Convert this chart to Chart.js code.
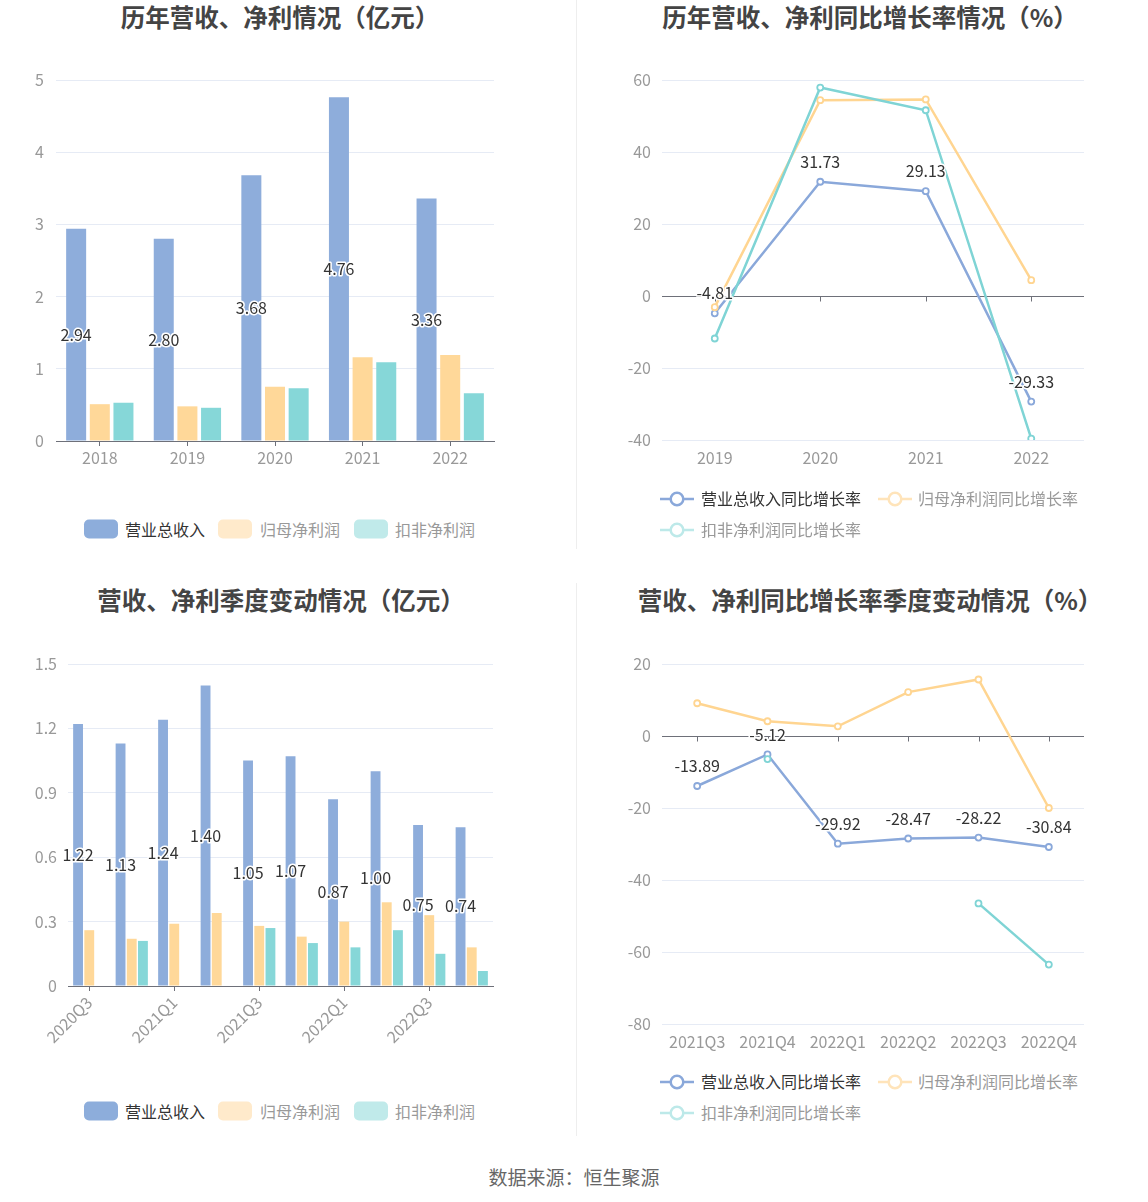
<!DOCTYPE html>
<html><head><meta charset="utf-8">
<script src="https://cdn.jsdelivr.net/npm/chart.js@4/dist/chart.umd.min.js"></script>
<style>
body{margin:0;background:#fff;width:1148px;height:1202px;position:relative;overflow:hidden;font-family:"Noto Sans CJK SC","Noto Sans",sans-serif;}
.t{position:absolute;font-weight:bold;font-size:24.5px;color:#444;white-space:nowrap;transform:translate(-50%,-50%);line-height:1;}
canvas{position:absolute;}
.lt{position:absolute;font-size:16px;white-space:nowrap;transform:translateY(-50%);line-height:1;}
.lb{position:absolute;width:34px;height:19px;border-radius:5px;transform:translateY(-50%);}
.li{position:absolute;transform:translateY(-50%);}
.div{position:absolute;left:576px;width:1px;background:#eee;}
.src{position:absolute;left:574px;top:1176px;transform:translate(-50%,-50%);font-size:19px;color:#666;white-space:nowrap;line-height:1;}
</style></head>
<body>
<div class="t" style="left:280px;top:17px">历年营收、净利情况（亿元）</div>
<div class="t" style="left:870px;top:17px">历年营收、净利同比增长率情况（%）</div>
<div class="t" style="left:281px;top:600px">营收、净利季度变动情况（亿元）</div>
<div class="t" style="left:870px;top:600px">营收、净利同比增长率季度变动情况（%）</div>
<div class="div" style="top:0;height:549px"></div>
<div class="div" style="top:583px;height:553px"></div>
<canvas id="c1" width="574" height="500" style="left:0;top:0"></canvas>
<canvas id="c2" width="574" height="500" style="left:574px;top:0"></canvas>
<canvas id="c3" width="574" height="480" style="left:0;top:583px"></canvas>
<canvas id="c4" width="574" height="480" style="left:574px;top:583px"></canvas>
<div id="legends"></div>
<div class="src">数据来源：恒生聚源</div>
<script>
// ---- data ----
const yearsA = ['2018','2019','2020','2021','2022'];
const revA = [2.94, 2.80, 3.68, 4.76, 3.36];
const npA  = [0.51, 0.48, 0.75, 1.16, 1.19];
const dnpA = [0.53, 0.46, 0.73, 1.09, 0.66];

const yearsG = ['2019','2020','2021','2022'];
const revG = [-4.81, 31.73, 29.13, -29.33];
const npG  = [-3.1, 54.4, 54.6, 4.4];
const dnpG = [-11.8, 57.9, 51.6, -39.6];

const quarters = ['2020Q3','2020Q4','2021Q1','2021Q2','2021Q3','2021Q4','2022Q1','2022Q2','2022Q3','2022Q4'];
const revQ = [1.22, 1.13, 1.24, 1.40, 1.05, 1.07, 0.87, 1.00, 0.75, 0.74];
const npQ  = [0.26, 0.22, 0.29, 0.34, 0.28, 0.23, 0.30, 0.39, 0.33, 0.18];
const dnpQ = [null, 0.21, null, null, 0.27, 0.20, 0.18, 0.26, 0.15, 0.07];

const quartersG = ['2021Q3','2021Q4','2022Q1','2022Q2','2022Q3','2022Q4'];
const revQG = [-13.89, -5.12, -29.92, -28.47, -28.22, -30.84];
const npQG  = [9.1, 4.1, 2.7, 12.2, 15.7, -20.0];
const dnpQG = [null, -6.4, null, null, -46.5, -63.5];

const barNames  = ['营业总收入','归母净利润','扣非净利润'];
const lineNames = ['营业总收入同比增长率','归母净利润同比增长率','扣非净利润同比增长率'];

// ---- styles ----
const FAM = '"Noto Sans CJK SC","Noto Sans",sans-serif';
const C_BLUE = '#8EADDB', C_ORANGE = '#FFD899', C_TEAL = '#86D7D8';
const L_BLUE = '#8AA8DA', L_ORANGE = '#FFD591', L_TEAL = '#7FD4D5';
const GRID = '#E6EBF5', AXIS = '#6E7079', TICK = '#999';

const valueLabels = {
  id: 'vlabels',
  afterDatasetsDraw(chart, args, opts) {
    if (!opts || !opts.mode) return;
    const ctx = chart.ctx;
    const meta = chart.getDatasetMeta(0);
    const ds = chart.data.datasets[0];
    ctx.save();
    ctx.font = '16px ' + FAM;
    ctx.textAlign = 'center';
    ctx.textBaseline = 'middle';
    ctx.lineJoin = 'round';
    meta.data.forEach((el, i) => {
      const v = ds.data[i];
      if (v == null) return;
      const t = v.toFixed(2);
      const x = el.x;
      const y = opts.mode === 'bar' ? (el.y + el.base) / 2 : el.y - 20;
      ctx.strokeStyle = '#fff'; ctx.lineWidth = 3; ctx.strokeText(t, x, y);
      ctx.fillStyle = '#333'; ctx.fillText(t, x, y);
    });
    ctx.restore();
  }
};
const zeroAxis = {
  id: 'zeroAxis',
  beforeDatasetsDraw(chart, args, opts) {
    if (!opts || !opts.on) return;
    const ctx = chart.ctx, ca = chart.chartArea, x = chart.scales.x, y = chart.scales.y;
    const y0 = Math.round(y.getPixelForValue(0)) + 0.5;
    ctx.save();
    ctx.strokeStyle = AXIS; ctx.lineWidth = 1;
    ctx.beginPath();
    ctx.moveTo(ca.left, y0); ctx.lineTo(ca.right, y0);
    for (let i = 0; i < x.ticks.length; i++) {
      const px = Math.round(x.getPixelForTick(i)) + 0.5;
      ctx.moveTo(px, y0); ctx.lineTo(px, y0 + 5);
    }
    ctx.stroke();
    ctx.restore();
  }
};
Chart.register(valueLabels, zeroAxis);

function yScale(min, max, step, w, pad, dec) {
  return {
    min: min, max: max,
    ticks: { stepSize: step, color: TICK, font: { size: 16, family: FAM }, padding: pad,
      callback: v => dec ? (Math.abs(v) < 1e-9 ? '0' : Number(v).toFixed(dec)) : String(Math.round(v)) },
    grid: { color: GRID, drawTicks: false, lineWidth: 1 },
    border: { display: false },
    afterFit: s => { s.width = w; }
  };
}

function barChart(id, labels, sets, opt) {
  return new Chart(document.getElementById(id), {
    type: 'bar',
    data: {
      labels: labels,
      datasets: sets.map((d, i) => ({
        label: barNames[i], data: d,
        backgroundColor: [C_BLUE, C_ORANGE, C_TEAL][i],
        categoryPercentage: opt.cat, barPercentage: opt.bar
      }))
    },
    options: {
      responsive: false, animation: false, events: [],
      layout: { padding: { top: opt.top, right: opt.right, left: 0, bottom: 0 } },
      plugins: { legend: { display: false }, tooltip: { enabled: false }, vlabels: { mode: 'bar' } },
      scales: {
        x: {
          offset: true,
          grid: { display: true, drawOnChartArea: false, drawTicks: true, tickLength: 5, offset: false,
            color: opt.every ? (c => (c.index % opt.every === 0 ? AXIS : 'rgba(0,0,0,0)')) : AXIS },
          border: { display: true, color: AXIS },
          ticks: { color: TICK, font: { size: 16, family: FAM }, padding: opt.xpad, autoSkip: false,
            minRotation: opt.rot, maxRotation: opt.rot,
            callback: (v, i) => (opt.every ? (i % opt.every === 0 ? labels[i] : '') : labels[i]) },
          afterFit: s => { s.height = opt.xh; }
        },
        y: yScale(opt.ymin, opt.ymax, opt.step, opt.yw, opt.ypad, opt.dec)
      }
    }
  });
}

function lineChart(id, labels, sets, opt) {
  return new Chart(document.getElementById(id), {
    type: 'line',
    data: {
      labels: labels,
      datasets: sets.map((d, i) => ({
        label: lineNames[i], data: d,
        borderColor: [L_BLUE, L_ORANGE, L_TEAL][i],
        backgroundColor: '#fff',
        pointBackgroundColor: '#fff',
        pointBorderColor: [L_BLUE, L_ORANGE, L_TEAL][i],
        borderWidth: 2.5, pointRadius: 3, pointBorderWidth: 1.8,
        tension: 0, spanGaps: false, order: 2 - i
      }))
    },
    options: {
      responsive: false, animation: false, events: [],
      layout: { padding: { top: opt.top, right: opt.right, left: 0, bottom: 0 } },
      plugins: { legend: { display: false }, tooltip: { enabled: false }, vlabels: { mode: 'line' }, zeroAxis: { on: true } },
      scales: {
        x: {
          offset: true,
          grid: { display: false },
          border: { display: false },
          ticks: { color: TICK, font: { size: 16, family: FAM }, padding: opt.xpad, autoSkip: false, maxRotation: 0 },
          afterFit: s => { s.height = opt.xh; }
        },
        y: yScale(opt.ymin, opt.ymax, opt.step, opt.yw, opt.ypad, 0)
      }
    }
  });
}

barChart('c1', yearsA, [revA, npA, dnpA],
  { cat: 0.81, bar: 0.846, top: 80, right: 80, xh: 59, yw: 56, ypad: 12, xpad: 2, rot: 0, ymin: 0, ymax: 5, step: 1, dec: 0 });
lineChart('c2', yearsG, [revG, npG, dnpG],
  { top: 80, right: 64, xh: 60, yw: 88, ypad: 11, xpad: 0, ymin: -40, ymax: 60, step: 20 });
barChart('c3', quarters, [revQ, npQ, dnpQ],
  { cat: 0.79, bar: 0.88, top: 81, right: 81, xh: 77, yw: 68, ypad: 11, xpad: 2, rot: 45, every: 2, ymin: 0, ymax: 1.5, step: 0.3, dec: 1 });
lineChart('c4', quartersG, [revQG, npQG, dnpQG],
  { top: 81, right: 64, xh: 39, yw: 88, ypad: 11, xpad: 0, ymin: -80, ymax: 20, step: 20 });

// ---- legends (HTML) ----
const lg = document.getElementById('legends');
function add(html) { lg.insertAdjacentHTML('beforeend', html); }
const boxCols = ['#8DADDB', '#FFEACB', '#C0EAEA'];
const txtCols = ['#333', '#999', '#999'];
function barLegend(y) {
  const bx = [84, 218, 354], tx = [125, 260, 395];
  barNames.forEach((n, i) => {
    add(`<div class="lb" style="left:${bx[i]}px;top:${y}px;background:${boxCols[i]}"></div>`);
    add(`<div class="lt" style="left:${tx[i]}px;top:${y}px;color:${txtCols[i]}">${n}</div>`);
  });
}
const icCols = ['#8AA8DA', '#FFE4BA', '#BDE9E9'];
function icon(c) {
  return `<svg width="34" height="18" viewBox="0 0 34 18"><line x1="0" y1="9" x2="34" y2="9" stroke="${c}" stroke-width="2.5"/><circle cx="17" cy="9" r="6.3" fill="#fff" stroke="${c}" stroke-width="2.5"/></svg>`;
}
function lineLegend(y1, y2) {
  const pos = [[660, 701, y1], [878, 918, y1], [660, 701, y2]];
  lineNames.forEach((n, i) => {
    add(`<div class="li" style="left:${pos[i][0]}px;top:${pos[i][2]}px;height:18px">${icon(icCols[i])}</div>`);
    add(`<div class="lt" style="left:${pos[i][1]}px;top:${pos[i][2]}px;color:${txtCols[i]}">${n}</div>`);
  });
}
barLegend(529);
barLegend(1111);
lineLegend(498, 529);
lineLegend(1081, 1112);
</script>
</body></html>
